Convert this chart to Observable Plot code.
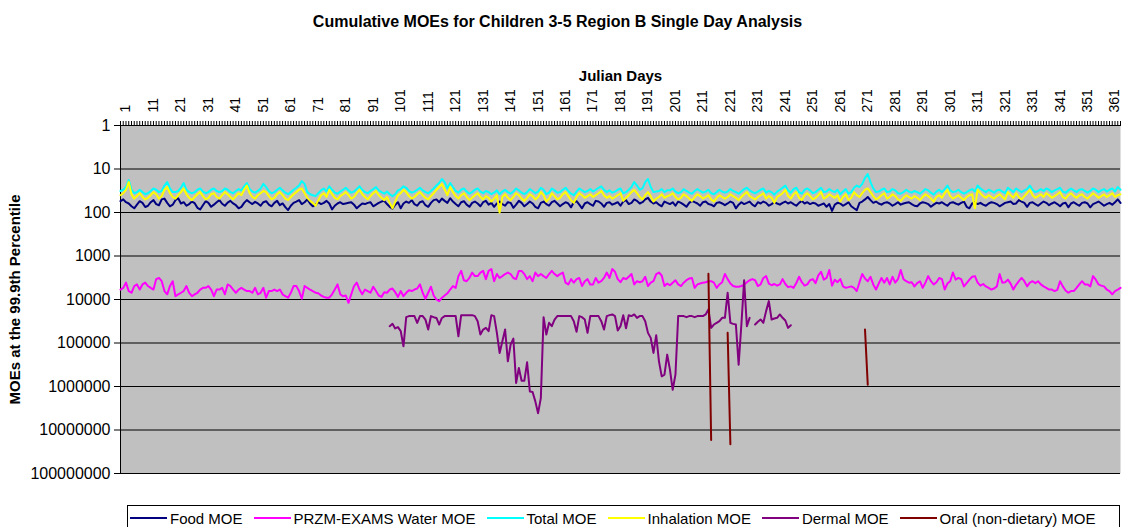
<!DOCTYPE html>
<html><head><meta charset="utf-8">
<script src="https://cdn.jsdelivr.net/npm/d3@7"></script>
<script src="https://cdn.jsdelivr.net/npm/@observablehq/plot@0.6"></script>
<style>
body{margin:0;background:#fff;font-family:"Liberation Sans",Arial,sans-serif;}
#wrap{position:relative;width:1122px;height:527px;overflow:hidden;}
#legend{position:absolute;left:127px;top:505px;width:993px;height:26px;border:1px solid #000;box-sizing:border-box;display:flex;align-items:center;padding-left:2px;font-size:15px;color:#000;white-space:nowrap;}
.item{display:flex;align-items:center;margin-right:11px;}
.sw{width:37px;height:2px;margin-right:3px;}
</style>
</head><body>
<div id="wrap"><div id="chart"></div><div id="legend"></div></div>
<script>
const title = "Cumulative MOEs for Children 3-5 Region B Single Day Analysis";
const xLabel = "Julian Days";
const yLabel = "MOEs at the 99.9th Percentile";
const yTicks = [1, 10, 100, 1000, 10000, 100000, 1000000, 10000000, 100000000];
const xTickLabels = [1,11,21,31,41,51,61,71,81,91,101,111,121,131,141,151,161,171,181,191,201,211,221,231,241,251,261,271,281,291,301,311,321,331,341,351,361];
const seriesNames = ["Food MOE","PRZM-EXAMS Water MOE","Total MOE","Inhalation MOE","Dermal MOE","Oral (non-dietary) MOE"];
const seriesColors = ["#000080","#FF00FF","#00FFFF","#FFFF00","#800080","#800000"];

const food = [
55,50,58,62,72,80,66,55,60,75, 70,58,52,64,68,50,48,60,72,66, 52,47,62,58,70,64,56,61,78,85,
68,55,60,74,66,58,52,63,70,59, 54,62,68,80,74,60,52,58,64,57, 62,70,58,55,66,72,60,54,68,62,
75,88,70,60,56,52,64,58,50,62, 72,66,58,64,60,54,62,85,70,62, 58,64,62,60,58,66,80,70,62,64,
60,58,72,66,60,56,54,64,74,82, 66,58,80,62,56,60,52,64,70,58, 55,68,74,60,52,50,58,48,54,60,
47,56,64,72,58,55,66,74,60,56, 62,72,58,54,66,60,74,62,56,64, 70,58,60,78,66,54,60,72,64,56,
62,74,80,60,56,64,70,58,54,62, 72,64,58,62,76,58,55,66,80,62, 58,64,70,54,56,62,74,60,58,66,
62,58,70,56,52,64,60,50,54,62, 58,50,46,56,62,58,66,72,56,60, 64,58,70,56,60,66,74,60,54,58,
62,70,58,56,64,66,72,60,58,62, 68,62,56,60,80,66,58,64,60,56, 66,72,58,62,56,60,70,64,58,62,
66,60,56,62,58,64,70,60,54,62, 58,64,60,62,70,66,62,74,64,92, 66,60,62,70,64,58,72,80,88,60,
56,50,44,52,60,56,62,66,60,58, 62,70,64,58,66,62,60,58,64,70, 72,62,58,60,64,74,66,60,62,58,
64,70,60,58,62,66,60,56,74,80, 62,58,64,60,66,70,62,58,60,64, 72,66,60,58,56,64,62,52,56,60,
74,60,58,64,70,62,56,60,68,62, 58,64,72,62,60,76,62,58,64,70, 60,58,62,76,64,60,56,62,70,64,
60,66,58,50,60];

const water = [
5900,5400,4100,6400,7000,4900,4500,5900,4500,4100, 4900,5400,5900,3400,3200,3800,6400,7600,4900,3800,
8400,7600,7000,6400,4900,7000,8400,7600,7000,5900, 5400,5400,4900,5900,8400,5900,5900,5400,7600,4500,
4900,5900,7000,5900,5400,5900,6400,6400,7000,5400, 7600,7000,5400,9100,6400,6400,5900,6400,5900,7600,
8400,9100,7000,4900,4900,6400,9600,4900,5400,5900, 6400,7000,7200,8100,8700,9100,9100,7600,5900,4500,
7600,8400,8100,11900,7600,4900,4100,5900,7600,5900, 6400,7000,5100,6400,8100,8700,6800,7000,5900,5600,
6800,8700,6400,8400,7000,6100,6400,5900,5600,4500, 7000,9600,7000,5100,8100,10000,10900,9100,8100,7200,
5900,4900,5400,2900,2200,3600,3800,3200,2400,2900, 2900,2400,2200,3400,2200,2000,3800,2600,3200,2900,
2600,2400,2600,3200,3400,2200,2200,2600,3400,2900, 3800,2400,2900,2600,2900,3200,2600,2200,2600,2900,
2600,2400,4100,4500,3400,4100,3400,3200,4900,3800, 3400,4500,4500,3200,4100,3800,3200,2400,3200,2000,
2300,3400,4000,3200,3400,3000,2600,4500,3800,4000, 3800,3000,4900,4100,3800,2600,2400,2800,4900,4300,
4700,4100,3600,4500,4900,4100,3600,3300,3200,5400, 4500,4300,4100,4000,3800,3800,4100,5400,4500,4000,
2600,3400,4300,4900,5100,5100,4900,4600,4000,3600, 3400,3600,4900,4500,3200,2900,4300,4700,4400,4800,
4500,3400,4400,5200,5000,5400,4200,3000,4000,4800, 4500,3600,3400,4200,2800,2300,3500,3200,2100,4800,
3500,4000,3400,5000,5400,5200,5000,5400,6400,4000, 2600,3300,3800,3000,4500,5900,4300,3200,4100,3200,
4500,3000,4100,3400,2100,3400,3800,4100,4000,5000, 4200,3800,5400,4100,2900,3800,4500,4000,3200,3400,
5900,4300,3800,2400,3500,3200,3400,5000,4200,3500, 3000,2900,4100,4800,4400,5000,5400,5900,5600,5000,
2600,4100,4000,3500,4300,5900,4600,3800,3200,3800, 5000,4100,3800,4200,3800,4500,5000,5400,5900,5900,
6400,6000,3800,5000,6200,7000,6400,6400,5400,4500, 3800,4500,4500,5000,2900,3500,4500,4800,5000,5900,
6400,7600,6400,5900,5400];

const total = [
32,30,26,18,30,36,34,30,34,38, 36,32,28,30,34,32,24,20,28,34, 34,32,27,21,30,34,36,34,30,28,
33,36,34,30,28,32,34,32,28,30, 34,36,32,29,31,25,21,29,33,35, 32,28,22,26,32,36,34,30,27,31,
35,38,34,30,27,24,19,22,34,38, 40,42,36,31,28,33,25,30,35,37, 33,30,27,31,35,33,29,25,30,34,
36,32,29,26,31,34,37,33,38,42, 38,31,29,25,27,32,35,33,30,27, 31,34,36,32,28,24,21,17,20,28,
21,26,32,35,30,28,33,37,34,30, 28,33,36,32,34,38,35,31,38,33, 30,34,37,33,28,31,35,38,34,29,
32,36,33,27,30,38,35,28,31,35, 34,30,27,32,37,40,33,28,31,34, 32,29,33,30,27,25,30,34,31,35,
33,30,28,36,34,30,26,20,24,30, 28,20,17,26,34,33,32,29,34,31, 31,28,33,36,34,29,32,35,37,32,
29,32,35,33,30,36,38,34,30,33, 35,33,29,32,34,37,33,29,27,31, 34,36,33,30,28,35,32,34,39,33,
30,27,24,31,35,29,27,34,37,30, 28,31,36,34,30,27,34,33,29,32, 34,30,38,33,29,37,34,27,24,26,
22,16,13,20,28,34,33,30,28,34, 33,29,31,36,37,34,30,33,35,32, 34,37,33,29,31,35,39,33,30,34,
29,24,31,34,33,30,34,37,34,31, 29,33,24,28,31,34,30,32,35,31, 30,33,36,27,30,34,28,31,34,31,
29,24,30,34,32,29,32,28,30,34, 31,29,27,33,35,31,28,31,34,30, 29,32,35,32,28,30,34,31,29,33,
30,28,33,26,30];

const inhalation = [
40,36,30,20,38,48,42,36,44,50, 46,40,34,38,48,42,30,26,36,44, 48,40,34,28,38,46,52,44,38,34,
42,50,46,38,36,44,48,40,34,38, 44,50,42,36,40,30,24,36,44,48, 40,36,32,34,42,50,46,38,34,40,
48,52,44,38,34,30,28,36,46,54, 60,70,52,40,36,44,30,38,46,50, 42,38,34,40,48,44,36,30,38,44,
50,42,36,32,40,46,52,44,60,80, 56,40,36,30,34,42,48,44,38,34, 40,46,50,42,36,30,26,22,30,40,
26,34,42,48,40,36,44,52,46,40, 36,44,50,42,46,56,48,40,100,44, 38,46,52,44,36,40,48,54,46,38,
42,50,44,34,40,56,48,36,42,50, 46,38,34,42,52,60,44,36,40,46, 42,38,44,40,36,32,40,46,42,48,
44,40,36,54,46,40,34,30,36,44, 50,40,34,42,56,48,44,38,46,42, 40,36,44,50,46,38,42,48,54,44,
38,42,48,44,40,50,56,46,40,44, 48,44,38,42,46,52,44,38,34,42, 46,50,44,40,36,48,42,46,60,44,
40,36,30,42,48,38,34,46,52,40, 36,42,50,46,40,34,48,44,38,42, 46,40,56,44,38,52,46,34,40,44,
36,30,28,34,42,50,46,40,36,48, 44,38,42,50,54,46,40,44,48,42, 46,52,44,38,42,48,56,44,40,46,
36,30,42,48,44,40,46,52,44,40, 38,80,30,36,42,46,40,44,48,42, 38,44,50,34,40,46,36,44,50,42,
36,30,40,46,42,38,44,36,40,46, 42,38,34,44,48,40,36,42,46,40, 38,44,48,42,36,40,46,42,38,44,
40,36,44,40,38];

// Dermal MOE: values for days 99..245 (null = no value)
const dermalStartDay = 99;
const dermal = [
41000,36300,46300,43200,53500,119000,25500,24100,24100,24100, 34400,24100,24100,29000,49000,24100,25500,26600,37600,26600,
24100,24100,24100,24100,24100,70000,22900,22900,22900,22900, 22900,24100,31500,64000,49000,44800,53500,22900,24100,58500,
169000,91000,49000,264000,109000,79000,832000,376000,736000,736000, 278000,1300000,1340000,2200000,4100000,1850000,25500,64000,34400,41000,
29000,24100,24100,24100,24100,24100,24100,31500,55400,24100, 25500,29000,58500,24100,24100,24100,24100,31500,49000,24100,
22900,22100,24100,51500,41000,22900,46000,23000,24100,22100, 26400,24100,24100,31500,58500,76300,169000,66200,264000,585000,
535000,185000,410000,1190000,535000,24100,24100,24100,25500,24100, 24100,25500,24100,24100,24100,22100,16900,44900,37600,34400,
31500,26400,26400,7000,34400,36300,37600,315000,37600,3630, 41100,26400,null,37600,32600,28800,34400,18500,10900,28800,
27300,26400,22100,26400,30400,44900,39000];

// Oral (non-dietary) MOE: isolated pairs of days
const oralDays = [215, 216, 222, 223, 272, 273];
const oralValues = [2550, 16900000, 58500, 21300000, 49000, 910000];

const days = d3.range(1, 366);
const rows = days.map((d, i) => {
  const di = d - dermalStartDay;
  return {
    day: d,
    food: food[i],
    water: water[i],
    total: total[i],
    inhalation: inhalation[i],
    dermal: (di >= 0 && di < dermal.length) ? dermal[di] : null
  };
});
const oralRows = oralDays.map((d, i) => ({day: d, oral: oralValues[i], seg: Math.floor(i / 2)}));

const keys = ["food","water","total","inhalation","dermal"];
const font = "Liberation Sans, Arial, Helvetica, sans-serif";

const lineMarks = keys.map((k, i) =>
  Plot.line(rows, {x: "day", y: k, stroke: seriesColors[i], strokeWidth: 2})
);
lineMarks.push(Plot.line(oralRows, {x: "day", y: "oral", z: "seg", stroke: seriesColors[5], strokeWidth: 2}));

const chart = Plot.plot({
  width: 1122,
  height: 500,
  marginTop: 125,
  marginBottom: 27,
  marginLeft: 120,
  marginRight: 2,
  style: {fontFamily: font, background: "transparent", color: "#000", overflow: "visible"},
  x: {type: "linear", domain: [1, 365], axis: null},
  y: {type: "log", domain: [1, 1e8], reverse: true, axis: null},
  marks: [
    Plot.frame({fill: "#C0C0C0", stroke: null}),
    Plot.ruleY(yTicks, {stroke: "#000", strokeWidth: 1}),
    Plot.ruleX([1], {stroke: "#000", strokeWidth: 1}),
    Plot.axisY({anchor: "left", ticks: yTicks, tickFormat: d3.format("d"), tickSize: 6, tickPadding: 4, fontSize: 16, label: null}),
    Plot.axisX({anchor: "top", ticks: days, tickSize: 5, tickFormat: () => "", label: null}),
    Plot.text(xTickLabels, {x: d => d, text: d => String(d), frameAnchor: "top", dy: -13, rotate: -90, textAnchor: "start", fontSize: 14}),
    ...lineMarks,
    Plot.text([title], {frameAnchor: "top", dx: -63, dy: -110, fontWeight: "bold", fontSize: 16}),
    Plot.text([xLabel], {frameAnchor: "top", dy: -55, fontWeight: "bold", fontSize: 15}),
    Plot.text([yLabel], {frameAnchor: "left", dx: -105, rotate: -90, textAnchor: "middle", fontWeight: "bold", fontSize: 15})
  ]
});
document.getElementById("chart").appendChild(chart);

const legend = document.getElementById("legend");
seriesNames.forEach((name, i) => {
  const it = document.createElement("div");
  it.className = "item";
  const sw = document.createElement("div");
  sw.className = "sw";
  sw.style.background = seriesColors[i];
  const tx = document.createElement("span");
  tx.textContent = name;
  it.appendChild(sw); it.appendChild(tx);
  legend.appendChild(it);
});
</script>
</body></html>
